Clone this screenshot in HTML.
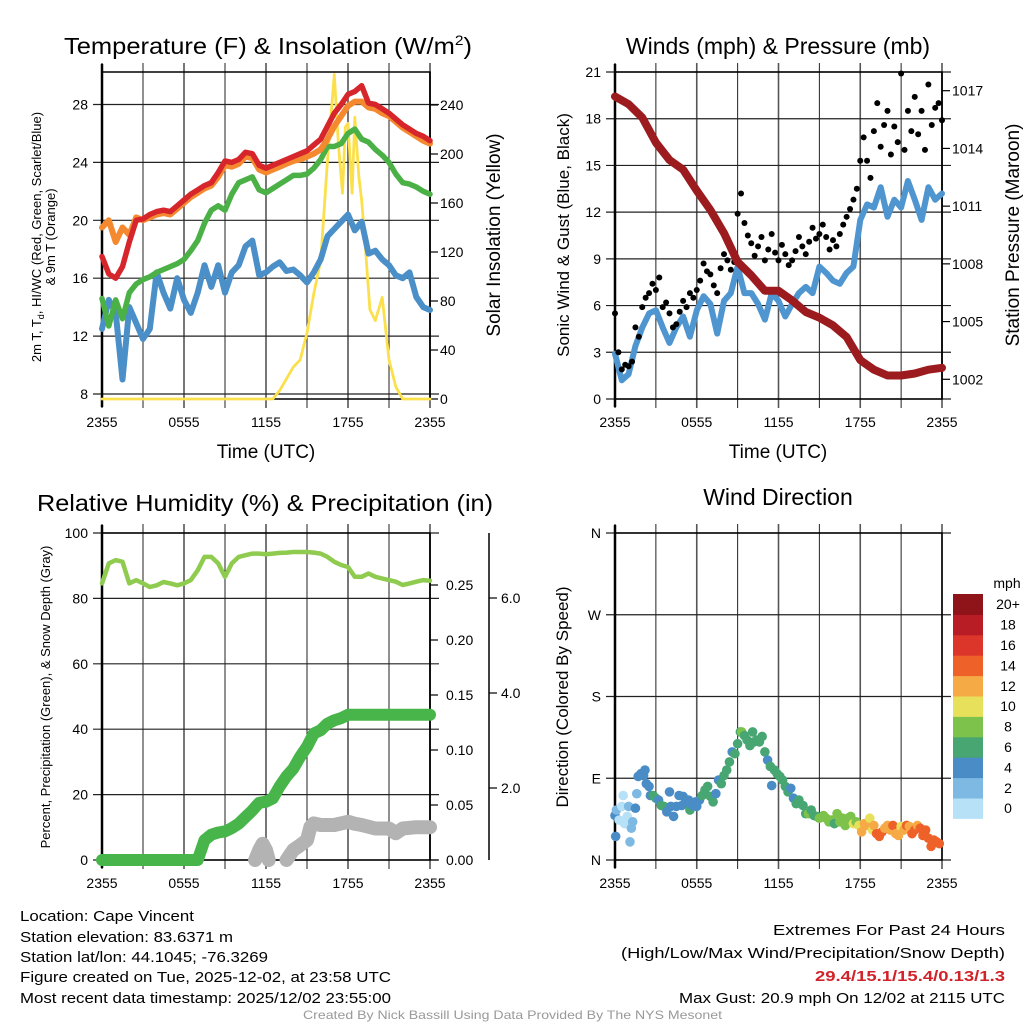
<!DOCTYPE html>
<html><head><meta charset="utf-8">
<style>
html,body{margin:0;padding:0;background:#fff;}
svg{display:block;font-family:"Liberation Sans",sans-serif;}
</style></head>
<body>
<svg id="root" width="1024" height="1024" viewBox="0 0 1024 1024" xmlns="http://www.w3.org/2000/svg">
<rect width="1024" height="1024" fill="#fff"/>
<g id="g1"></g>
<g id="g2"></g>
<g id="g3"></g>
<g id="g4"></g>

<text x="64" y="54" font-size="23" textLength="408" lengthAdjust="spacingAndGlyphs">Temperature (F) &amp; Insolation (W/m<tspan dy="-9" font-size="14">2</tspan><tspan dy="9">)</tspan></text>
<text x="778" y="54" font-size="23" text-anchor="middle">Winds (mph) &amp; Pressure (mb)</text>
<text x="265" y="511" font-size="23" text-anchor="middle" textLength="456" lengthAdjust="spacingAndGlyphs">Relative Humidity (%) &amp; Precipitation (in)</text>
<text x="778" y="505" font-size="23" text-anchor="middle">Wind Direction</text>

<text x="266" y="458" font-size="19" text-anchor="middle">Time (UTC)</text>
<text x="778" y="458" font-size="19" text-anchor="middle">Time (UTC)</text>

<text transform="translate(41,237) rotate(-90)" font-size="13" text-anchor="middle">2m T, T<tspan dy="3" font-size="9">d</tspan><tspan dy="-3">, HI/WC (Red, Green, Scarlet/Blue)</tspan></text>
<text transform="translate(55,237) rotate(-90)" font-size="13" text-anchor="middle">&amp; 9m T (Orange)</text>
<text transform="translate(500,235) rotate(-90)" font-size="19" text-anchor="middle">Solar Insolation (Yellow)</text>
<text transform="translate(569,235) rotate(-90)" font-size="17" text-anchor="middle">Sonic Wind &amp; Gust (Blue, Black)</text>
<text transform="translate(1019,235) rotate(-90)" font-size="19" text-anchor="middle">Station Pressure (Maroon)</text>
<text transform="translate(50,697) rotate(-90)" font-size="13" text-anchor="middle">Percent, Precipitation (Green), &amp; Snow Depth (Gray)</text>
<text transform="translate(568,697) rotate(-90)" font-size="17" text-anchor="middle">Direction (Colored By Speed)</text>

<g font-size="15">
<text x="20" y="921" textLength="174" lengthAdjust="spacingAndGlyphs">Location: Cape Vincent</text>
<text x="20" y="942" textLength="213" lengthAdjust="spacingAndGlyphs">Station elevation: 83.6371 m</text>
<text x="20" y="962" textLength="248" lengthAdjust="spacingAndGlyphs">Station lat/lon: 44.1045; -76.3269</text>
<text x="20" y="982" textLength="371" lengthAdjust="spacingAndGlyphs">Figure created on Tue, 2025-12-02, at 23:58 UTC</text>
<text x="20" y="1003" textLength="371" lengthAdjust="spacingAndGlyphs">Most recent data timestamp: 2025/12/02 23:55:00</text>
</g>
<g font-size="15">
<text x="773" y="935" textLength="232" lengthAdjust="spacingAndGlyphs">Extremes For Past 24 Hours</text>
<text x="621" y="958" textLength="384" lengthAdjust="spacingAndGlyphs">(High/Low/Max Wind/Precipitation/Snow Depth)</text>
<text x="815" y="981" font-weight="bold" fill="#d1232a" textLength="190" lengthAdjust="spacingAndGlyphs">29.4/15.1/15.4/0.13/1.3</text>
<text x="679" y="1003" textLength="326" lengthAdjust="spacingAndGlyphs">Max Gust: 20.9 mph On 12/02 at 2115 UTC</text>
</g>
<text x="303" y="1019" font-size="12" fill="#999" textLength="419" lengthAdjust="spacingAndGlyphs">Created By Nick Bassill Using Data Provided By The NYS Mesonet</text>
</svg>
<script>
// ---- data ----
const stepHours = 0.5;
const tempRed = [17.5,16.3,16.0,16.8,18.5,20.0,20.1,20.4,20.6,20.7,20.6,21.0,21.4,21.8,22.1,22.4,22.6,23.3,24.1,24.0,24.2,24.7,24.6,23.8,23.6,23.8,24.0,24.2,24.4,24.6,24.8,25.2,25.6,26.5,27.4,28.0,28.7,28.9,29.3,28.1,28.0,27.7,27.4,27.0,26.6,26.3,26.0,25.8,25.5];
const tempOrange = [19.5,20.0,18.5,19.5,19.0,20.2,20.0,20.2,20.4,20.5,20.4,20.8,21.2,21.6,21.9,22.2,22.4,23.0,23.8,23.7,23.9,24.4,24.3,23.5,23.3,23.5,23.7,23.9,24.1,24.2,24.4,24.6,24.9,25.6,26.5,27.2,27.9,28.2,28.2,27.8,27.7,27.4,27.2,26.8,26.4,26.1,25.8,25.5,25.3];
const tempGreen = [14.6,12.7,14.5,13.2,15.0,15.6,15.9,16.1,16.4,16.6,16.8,17.0,17.3,17.9,18.6,19.8,20.7,21.0,20.7,21.8,22.6,22.8,23.0,22.1,21.9,22.2,22.5,22.8,23.1,23.1,23.2,23.6,24.2,25.1,25.1,25.3,26.0,26.3,25.6,25.4,24.9,24.5,24.0,23.2,22.6,22.5,22.3,22.0,21.8];
const tempBlue = [12.5,14.5,13.6,9.0,14.0,12.9,11.8,12.5,16.4,15.0,13.9,16.0,14.5,13.6,15.0,16.9,15.4,16.9,15.0,16.4,16.9,18.2,18.6,16.2,16.4,16.8,17.1,16.5,16.6,16.2,15.7,16.4,17.3,18.9,19.4,19.9,20.4,19.3,19.9,17.7,17.9,17.3,16.9,16.2,16.0,16.4,14.7,14.0,13.8];
const solarHours = [0,12.5,13,14,14.5,15,15.5,16,16.5,17,17.3,17.6,17.8,18,18.3,18.5,18.8,19,19.3,19.6,20,20.5,21,21.5,22,24];
const solarVals = [0,0,7,26,32,54,86,113,195,265,208,168,222,225,168,230,181,162,119,73,64,83,32,10,0,0];
const windSpeed = [2.9,1.2,1.6,3.4,4.6,5.5,5.7,4.6,3.6,4.6,5.3,4.0,5.7,6.6,6.1,4.2,6.3,6.8,8.5,6.8,6.8,6.1,5.1,6.8,6.3,5.3,6.1,6.8,7.2,6.8,8.5,8.1,7.6,7.4,8.1,8.5,11.5,12.5,12.3,13.6,11.7,12.8,12.3,14.0,12.8,11.5,13.6,12.8,13.2];
const gustStepHours = 0.25;
const windGust = [5.5,3.0,1.9,2.2,2.1,2.4,4.6,4.0,5.9,6.5,6.8,7.4,7.0,7.8,5.9,6.2,5.5,4.6,4.8,5.6,6.3,5.9,6.8,6.5,7.0,7.6,8.7,8.2,8.0,7.3,6.8,8.4,9.3,8.9,8.3,8.8,11.9,13.2,11.3,10.5,10.0,9.2,9.8,10.4,8.9,9.6,10.6,9.4,8.9,9.9,9.3,8.6,8.9,9.5,10.4,9.8,9.3,10.1,11.0,10.3,10.6,11.2,10.4,9.6,10.2,9.8,10.6,11.2,11.7,12.2,12.8,13.5,15.3,16.8,15.3,14.2,17.2,19.0,16.2,17.6,18.5,15.7,17.5,16.5,20.9,16.0,18.5,17.2,19.4,17.0,18.5,16.0,20.2,17.6,18.7,19.0,17.9];
const pressureStepHours = 1;
const pressure = [1016.7,1016.3,1015.6,1014.3,1013.4,1012.9,1011.8,1010.8,1009.6,1008.1,1007.4,1006.6,1006.6,1006.1,1005.5,1005.2,1004.8,1004.2,1003.0,1002.5,1002.2,1002.2,1002.3,1002.5,1002.6];
const relHumidity = [84.6,90.7,91.7,91.2,84.6,85.6,84.6,83.5,84.0,85.0,84.6,84.0,84.6,85.6,88.6,92.7,92.7,90.7,86.6,90.7,92.7,93.2,93.7,93.7,93.5,93.7,93.9,94.0,94.2,94.2,94.2,94.0,93.7,92.7,91.2,90.2,89.6,86.6,86.6,87.6,86.6,86.1,85.6,85.1,84.1,84.6,85.1,85.6,85.4];
const precip = [0,0,0,0,0,0,0,0,0,0,0,0,0,0,0,0.018,0.023,0.025,0.026,0.029,0.033,0.039,0.045,0.052,0.053,0.056,0.067,0.076,0.083,0.094,0.103,0.115,0.118,0.124,0.127,0.129,0.132,0.132,0.132,0.132,0.132,0.132,0.132,0.132,0.132,0.132,0.132,0.132,0.132];
const snowHours = [11.2,11.5,11.75,12,12.2,null,13.5,14,14.5,15,15.25,15.5,16,17,18,18.5,19,20,21,21.5,22,23,24];
const snowDepth = [0,0.37,0.6,0.37,0,null,0,0.37,0.55,0.74,1.23,1.36,1.3,1.3,1.42,1.35,1.3,1.17,1.17,0.99,1.17,1.22,1.22];
const dirHours = [0,0.05,0.1,0.3,0.5,0.6,0.7,0.9,1.0,1.1,1.2,1.3,1.5,1.6,1.7,1.9,2.1,2.2,2.3,2.5,2.6,2.8,3.0,3.2,3.4,3.6,3.8,4.0,4.1,4.3,4.5,4.7,4.9,5.0,5.2,5.4,5.5,5.7,5.9,6.0,6.2,6.4,6.6,6.8,7.0,7.2,7.4,7.6,7.8,8.0,8.2,8.4,8.6,8.8,9.0,9.2,9.3,9.5,9.7,9.9,10.1,10.2,10.4,10.6,10.8,11.0,11.2,11.4,11.5,11.7,11.9,12.1,12.3,12.5,12.7,12.9,13.1,13.3,13.5,13.8,14.0,14.2,14.4,14.6,14.8,15.0,15.3,15.5,15.7,15.9,16.1,16.3,16.5,16.7,16.9,17.1,17.3,17.5,17.7,17.9,18.1,18.3,18.5,18.7,18.9,19.0,19.2,19.4,19.6,19.8,20.0,20.2,20.4,20.6,20.8,21.0,21.2,21.4,21.6,21.8,22.0,22.2,22.4,22.6,22.8,23.0,23.2,23.4,23.6,23.8];
const dirDeg = [49,26,55,44,59,71,40,48,59,20,35,42,57,73,92,95,93,99,84,81,71,71,68,66,60,59,53,75,59,48,59,71,60,70,62,66,55,60,64,59,66,71,77,81,70,64,73,88,84,93,99,108,119,117,128,141,141,137,132,126,141,130,132,130,136,119,110,103,82,99,95,92,88,81,75,79,68,62,66,60,51,51,55,49,48,46,49,46,42,44,40,51,42,46,38,46,48,40,42,38,31,40,38,46,33,38,29,26,31,35,38,33,38,29,27,37,33,38,37,29,33,38,35,27,33,24,15,22,20,18];
const dirSpeed = [4.5,4.5,2.5,1,1.5,1,1.5,1,3,3,2.5,3,5,3,4.5,4.5,5,5,4.5,4.5,5,6.5,6.5,5,6.5,7,4.5,4.5,5,5,5,4.5,5,4.5,5,4.5,7,5,5,5,5,6.5,6.5,6.5,6.5,6.5,4.5,4.5,6.5,6.5,6.5,6.5,4.5,6.5,6.5,6.5,9,6.5,6.5,6.5,6.5,6.5,6.5,6.5,6.5,6.5,4.5,6.5,4.5,6.5,6.5,6.5,6.5,6.5,6.5,4.5,4.5,6.5,6.5,6.5,6.5,8.5,6.5,6.5,6.5,8.5,8.5,8.5,8.5,8.5,6.5,8.5,8.5,8.5,8.5,8.5,8.5,10.5,9,10.5,12.5,12.5,12.5,10.5,10.5,12.5,15,15,14.5,12.5,12.5,12.5,14.5,12.5,12.5,10.5,12.5,14.5,12.5,14.5,15,12.5,14.5,15,15,15,15,15,15,15];
const speedBinLabels = ["0","2","4","6","8","10","12","14","16","18","20+"];
const speedBinColors = ["#b6e1f7","#7db9e3","#4a8cc6","#47a672","#7dc24b","#e6e05a","#f6aa46","#ee6129","#dc352a","#b81c24","#8e1419"];
const tempTicks = [8,12,16,20,24,28];
const solarTicks = [0,40,80,120,160,200,240];
const windTicks = [0,3,6,9,12,15,18,21];
const pressureTicks = [1002,1005,1008,1011,1014,1017];
const rhTicks = [0,20,40,60,80,100];
const precipTicks = [0,0.05,0.10,0.15,0.20,0.25];
const snowTicks = [2,4,6];
const dirTicks = [0,90,180,270,360];
const dirTickLabels = ["N","E","S","W","N"];
const timeTicks = [0,6,12,18,24];
const timeTickLabels = ["2355","0555","1155","1755","2355"];

// ---- helpers ----
const NS = "http://www.w3.org/2000/svg";
function mk(parent, tag, attrs){ const e=document.createElementNS(NS,tag); for(const k in attrs) e.setAttribute(k,attrs[k]); parent.appendChild(e); return e; }
function lin(d0,d1,r0,r1){ return v=>r0+(v-d0)*(r1-r0)/(d1-d0); }
function pathFrom(xs, ys){ let d="",pen=false; for(let i=0;i<xs.length;i++){ if(xs[i]===null||ys[i]===null){pen=false;continue;} d+=(pen?"L":"M")+xs[i].toFixed(1)+","+ys[i].toFixed(1); pen=true;} return d; }

function frame(g, x0,x1,y0,y1, yTicks, yScale, leftLabels){
  const xs = lin(0,24,x0,x1);
  for(let h=0;h<=24;h+=3){
    const l=mk(g,"line",{x1:xs(h),x2:xs(h),y1:y0-9,y2:y1+9,stroke:(h%6===0?"#555":"#222"),"stroke-width":(h%6===0?1.6:1)});
    
    
  }
  yTicks.forEach((v,i)=>{
    const y=yScale(v);
    const l=mk(g,"line",{x1:x0-9,x2:x1+9,y1:y,y2:y,stroke:"#222","stroke-width":1.2});
    
    
    const t=mk(g,"text",{x:x0-14,y:y+5,"font-size":14,"text-anchor":"end"});
    t.textContent=leftLabels?leftLabels[i]:String(v);
    
    
  });
  timeTicks.forEach((h,i)=>{
    const t=mk(g,"text",{x:xs(h),y:y1+28,"font-size":14,"text-anchor":"middle"});
    t.textContent=timeTickLabels[i];
    
    
  });
  const b=mk(g,"rect",{x:x0,y:y0,width:x1-x0,height:y1-y0,fill:"none",stroke:"#000","stroke-width":1.5});
  
  
  const la=mk(g,"line",{x1:x0,x2:x0,y1:y0-8,y2:y1+8,stroke:"#000","stroke-width":2.5});
  
  
  return xs;
}
function rightAxis(g, x, y0, y1, ticks, scale, fmt, offset, name){
  const ax=mk(g,"line",{x1:x,x2:x,y1:y0,y2:y1,stroke:"#000","stroke-width":1.5});
  
  
  ticks.forEach(v=>{
    const y=scale(v);
    const tk=mk(g,"line",{x1:x,x2:x+8,y1:y,y2:y,stroke:"#000","stroke-width":1.2});
    
    
    const t=mk(g,"text",{x:x+offset,y:y+5,"font-size":14});
    t.textContent=fmt(v);
    
    
  });
}
function line(g, xs, ys, color, w, name){
  const p=mk(g,"path",{d:pathFrom(xs,ys),fill:"none",stroke:color,"stroke-width":w,"stroke-linejoin":"round","stroke-linecap":"round"});
  
  
}

// ---- panel 1: temperature ----
(function(){
  const g=document.getElementById("g1");
  const x0=102,x1=430,y0=72,y1=399;
  const yT=lin(8,28,394,104.5);
  const yS=lin(0,240,399,105);
  const xs=frame(g,x0,x1,y0,y1,tempTicks,yT);
  rightAxis(g,x1,y0,y1,solarTicks,yS,v=>String(v),10,'solar-axis');
  const hx=tempRed.map((_,i)=>xs(i*stepHours));
  line(g,solarHours.map(xs),solarVals.map(yS),"#fbe04c",2.8,'solar-insolation-line');
  line(g,hx,tempBlue.map(yT),"#4a8fc7",6,'wind-chill-line');
  line(g,hx,tempGreen.map(yT),"#4bb147",5.5,'dewpoint-line');
  line(g,hx,tempOrange.map(yT),"#f4892f",6,'temp-9m-line');
  line(g,hx,tempRed.map(yT),"#d7262b",5.5,'temp-2m-line');
})();

// ---- panel 2: winds ----
(function(){
  const g=document.getElementById("g2");
  const x0=615,x1=942,y0=72,y1=399;
  const yW=lin(0,21,399,72);
  const yP=lin(1002,1017,379.3,90.7);
  const xs=frame(g,x0,x1,y0,y1,windTicks,yW);
  rightAxis(g,x1,y0,y1,pressureTicks,yP,v=>String(v),10,'pressure-axis');
  line(g,windSpeed.map((_,i)=>xs(i*stepHours)),windSpeed.map(yW),"#4f95d0",6,'wind-speed-line');
  windGust.forEach((v,i)=>{
    const c=mk(g,"circle",{cx:xs(i*gustStepHours),cy:yW(v),r:3,fill:"#000"});
    
    
  });
  line(g,pressure.map((_,i)=>xs(i*pressureStepHours)),pressure.map(yP),"#9b1b1e",8,'pressure-line');
})();

// ---- panel 3: humidity ----
(function(){
  const g=document.getElementById("g3");
  const x0=102,x1=430,y0=533,y1=860;
  const yR=lin(0,100,860,533);
  const yPr=lin(0,0.25,860,585);
  const ySn=lin(0,1.3,860,825);
  const ySnAxis=lin(2,6,788,598);
  const xs=frame(g,x0,x1,y0,y1,rhTicks,yR);
  rightAxis(g,x1,y0,y1,precipTicks,yPr,v=>v.toFixed(2),16,'precip-axis');
  rightAxis(g,489,y0,y1,snowTicks,ySnAxis,v=>v.toFixed(1),12,'snow-axis');
  const hx=relHumidity.map((_,i)=>xs(i*stepHours));
  line(g,snowHours.map(h=>h===null?null:xs(h)),snowDepth.map(v=>v===null?null:ySn(v)),"#b3b3b3",14,'snow-depth-line');
  line(g,hx,precip.map(yPr),"#48b54a",12,'precip-line');
  line(g,hx,relHumidity.map(yR),"#8fcb4f",4.5,'humidity-line');
})();

// ---- panel 4: wind direction ----
(function(){
  const g=document.getElementById("g4");
  const x0=615,x1=942,y0=533,y1=860;
  const yD=lin(0,360,860,533);
  const xs=frame(g,x0,x1,y0,y1,dirTicks,yD,dirTickLabels);
  dirHours.forEach((h,i)=>{
    const bin=Math.min(10,Math.floor(dirSpeed[i]/2));
    const c=mk(g,"circle",{cx:xs(h),cy:yD(dirDeg[i]),r:4.8,fill:speedBinColors[bin]});
    
    
  });
  const cb=mk(g,"g",{});
  
  
  const bx=953,bw=30,top=594,bh=20.4;
  speedBinColors.forEach((col,i)=>{
    const y=top+(10-i)*bh;
    const r=mk(cb,"rect",{x:bx,y:y,width:bw,height:bh+0.5,fill:col});
    
    
    const t=mk(cb,"text",{x:1008,y:y+bh/2+5,"font-size":14,"text-anchor":"middle"});
    t.textContent=speedBinLabels[i];
    
    
  });
  const u=mk(cb,"text",{x:1007,y:588,"font-size":14,"text-anchor":"middle"});
  u.textContent="mph";
  
  
})();
</script>
</body></html>
